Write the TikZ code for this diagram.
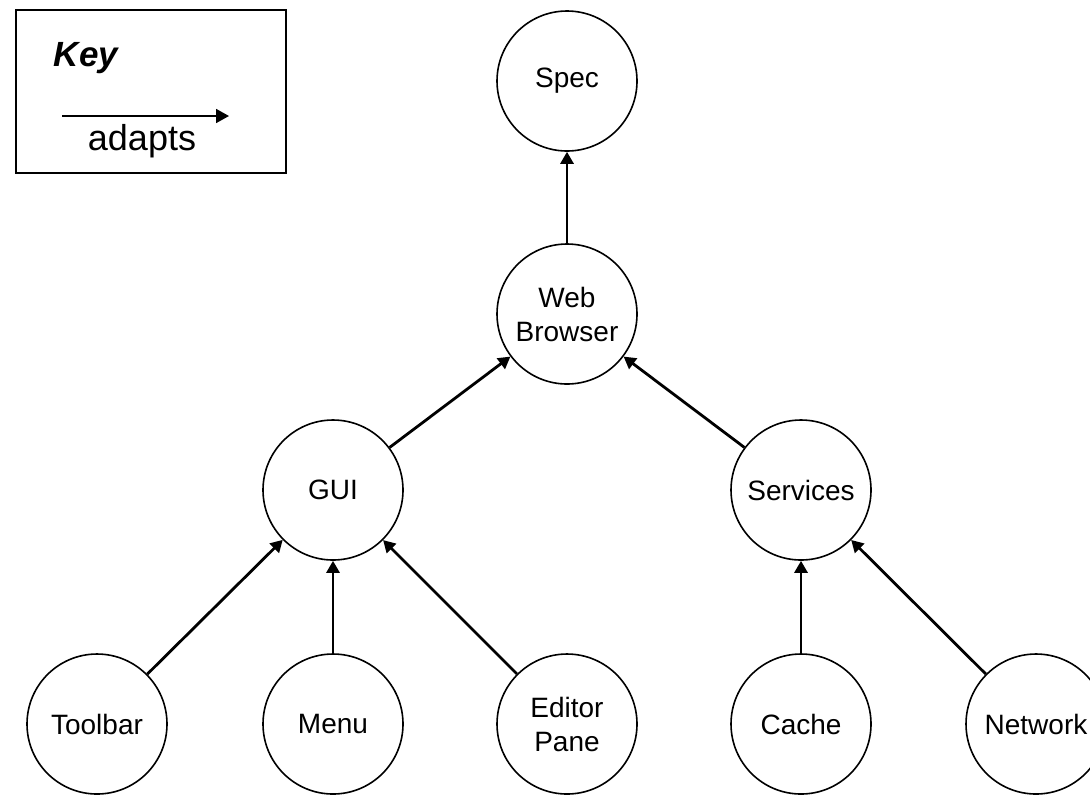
\documentclass[tikz,border=0pt]{standalone}
\usepackage{fontspec}
\setmainfont{Liberation Sans}
\usepackage{tikz}
\usetikzlibrary{arrows.meta, positioning}

\begin{document}
\begin{tikzpicture}[
    x=0.5pt, y=-0.5pt,
    node distance=117pt, on grid,
    part/.style={circle, draw=black, line width=0.8pt, minimum size=70pt, inner sep=0pt, align=center, font=\fontsize{14}{17}\selectfont},
    keybox/.style={rectangle, draw=black, line width=0.8pt, minimum width=135pt, minimum height=81.5pt},
    arrow/.style={-{Triangle[length=6pt, width=6.5pt]}, line width=1.4pt},
    keyarrow/.style={-{Triangle[length=6.5pt, width=7pt]}, line width=0.9pt}
]
    \useasboundingbox (0,0) rectangle (1090,794);

    % key
    \node[keybox] (key) at (151,91.5) {};
    \node[font=\fontsize{17.5}{20}\selectfont\bfseries\itshape] (keytitle) at (86,58) {Key};
    \coordinate (keyfrom) at (62,116);
    \coordinate (keyto) at (229,116);
    \node[font=\fontsize{18}{20}\selectfont] (keylabel) at (142,141) {adapts};
    \draw[keyarrow] (keyfrom) -- (keyto);

    % components
    \node[part] (browser) at (567,314) {Web\\Browser};
    \node[part, above=116.5pt of browser] (spec) {Spec};
    \node[part, below left=88pt and 117pt of browser] (gui) {GUI};
    \node[part, below right=88pt and 117pt of browser] (services) {Services};
    \node[part, below left=117pt and 118pt of gui] (toolbar) {Toolbar};
    \node[part, below=117pt of gui] (menu) {Menu};
    \node[part, below right=117pt and 117pt of gui] (editor) {Editor\\Pane};
    \node[part, below=117pt of services] (cache) {Cache};
    \node[part, below right=117pt and 117.5pt of services] (network) {Network};

    \draw[arrow] (browser) -- (spec);
    \draw[arrow] (gui) -- (browser);
    \draw[arrow] (services) -- (browser);
    \draw[arrow] (toolbar) -- (gui);
    \draw[arrow] (menu) -- (gui);
    \draw[arrow] (editor) -- (gui);
    \draw[arrow] (cache) -- (services);
    \draw[arrow] (network) -- (services);
\end{tikzpicture}
\end{document}
